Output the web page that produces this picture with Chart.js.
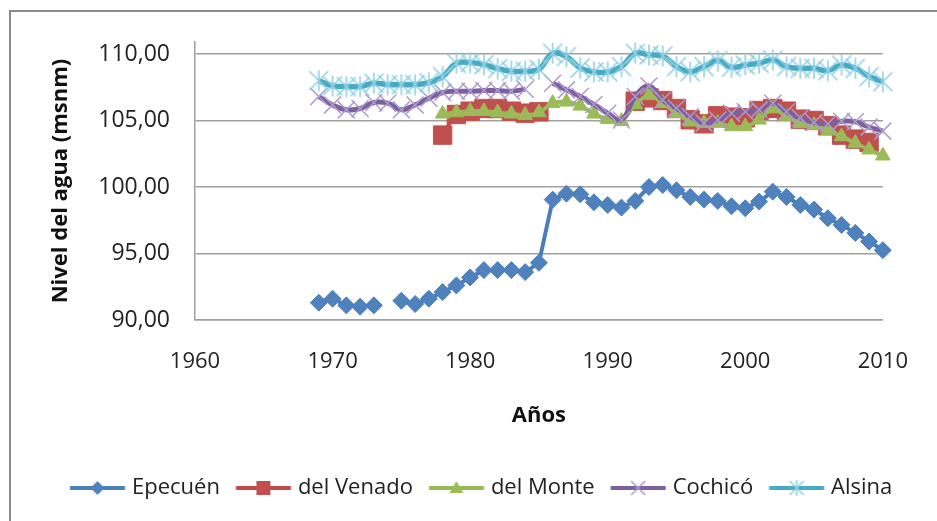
<!DOCTYPE html>
<html><head><meta charset="utf-8">
<script src="https://cdn.jsdelivr.net/npm/chart.js@4.4.1/dist/chart.umd.min.js"></script>
<style>
html,body{margin:0;padding:0;background:#fff;}
#wrap{position:relative;width:937px;height:521px;overflow:hidden;background:#fff;}
#frame{position:absolute;left:9px;top:10px;width:1000px;height:600px;border:2px solid #8c8c8c;box-sizing:border-box;}
#c{position:absolute;left:0;top:0;}
</style></head><body>
<div id="wrap"><div id="frame"></div><canvas id="c" width="937" height="521"></canvas></div>
<script>
const years = [1969,1970,1971,1972,1973,1974,1975,1976,1977,1978,1979,1980,1981,1982,1983,1984,1985,1986,1987,1988,1989,1990,1991,1992,1993,1994,1995,1996,1997,1998,1999,2000,2001,2002,2003,2004,2005,2006,2007,2008,2009,2010];
const epecuen = [91.3,91.6,91.1,91.0,91.1,null,91.45,91.2,91.6,92.1,92.6,93.2,93.75,93.75,93.75,93.6,94.3,99.05,99.5,99.45,98.85,98.65,98.45,98.95,100.0,100.15,99.75,99.25,99.05,98.95,98.55,98.4,98.9,99.65,99.25,98.65,98.3,97.65,97.15,96.55,95.9,95.25];
const venado = [null,null,null,null,null,null,null,null,null,103.9,105.45,105.7,105.9,105.9,105.7,105.55,105.65,null,null,null,null,null,null,106.45,106.7,106.5,105.9,105.05,104.75,105.35,105.25,105.2,105.75,105.9,105.7,105.1,105.0,104.6,103.9,103.6,103.35,null];
const monte = [null,null,null,null,null,null,null,null,null,105.5,105.6,105.7,105.7,105.6,105.5,105.4,105.6,106.3,106.4,106.1,105.5,105.1,104.95,106.2,106.9,106.3,105.55,104.9,104.8,104.8,104.55,104.55,105.05,105.9,105.3,104.8,104.65,104.25,103.8,103.3,102.8,102.35];
const cochico = [106.8,106.17,105.8,105.9,106.35,106.3,105.8,106.17,106.67,107.1,107.2,107.2,107.25,107.25,107.2,107.35,null,107.8,107.3,106.8,106.2,105.54,105.04,106.8,107.6,106.54,105.92,105.3,104.8,105.04,105.54,105.66,105.8,106.3,105.66,105.2,104.85,104.75,104.95,104.9,104.5,104.2];
const alsina = [108.0,107.6,107.55,107.55,107.8,107.7,107.7,107.7,107.85,108.3,109.3,109.35,109.2,108.9,108.7,108.7,108.85,110.05,109.8,108.95,108.65,108.65,109.05,110.05,109.93,109.85,109.05,108.67,109.05,109.5,109.0,109.17,109.3,109.55,109.05,108.92,108.92,108.75,109.17,108.92,108.3,107.92];
const seriesNames = ['Epecuén','del Venado','del Monte','Cochicó','Alsina'];
const xTicks = [1960,1970,1980,1990,2000,2010];
const yTicks = [90,95,100,105,110];

function pts(arr){ return years.map((x,i)=>({x:x, y:arr[i]})); }

function starImg(size, color){
  const c=document.createElement('canvas'); c.width=size; c.height=size;
  const g=c.getContext('2d'); g.strokeStyle=color; g.lineWidth=1.6;
  const m=size/2, a=size/2-1.5;
  g.beginPath();
  g.moveTo(m-a,m-a); g.lineTo(m+a,m+a);
  g.moveTo(m+a,m-a); g.lineTo(m-a,m+a);
  g.moveTo(m,m-a-1); g.lineTo(m,m+a+1);
  g.stroke();
  return c;
}
// legend image: 80 wide, line from 22.5 to 77.5, marker at 50
function legendImg(lineColor, lineW, marker){
  const c=document.createElement('canvas'); c.width=80; c.height=26;
  const g=c.getContext('2d');
  g.strokeStyle=lineColor; g.lineWidth=lineW;
  g.beginPath(); g.moveTo(22.5,13); g.lineTo(77.5,13); g.stroke();
  marker(g,50,13);
  return c;
}
const legendImgs = [
  legendImg('#4A7EBB',4,(g,x,y)=>{g.fillStyle='#4F81BD';g.beginPath();g.moveTo(x,y-7);g.lineTo(x+7,y);g.lineTo(x,y+7);g.lineTo(x-7,y);g.closePath();g.fill();}),
  legendImg('#BE4B48',4,(g,x,y)=>{g.fillStyle='#C0504D';g.fillRect(x-7,y-7,14,14);}),
  legendImg('#98B954',4,(g,x,y)=>{g.fillStyle='#9BBB59';g.beginPath();g.moveTo(x,y-7);g.lineTo(x+7,y+5);g.lineTo(x-7,y+5);g.closePath();g.fill();}),
  legendImg('#7D60A0',4,(g,x,y)=>{g.strokeStyle='#ad9bcc';g.lineWidth=1.5;g.beginPath();g.moveTo(x-7,y-7);g.lineTo(x+7,y+7);g.moveTo(x+7,y-7);g.lineTo(x-7,y+7);g.stroke();}),
  legendImg('#46AAC5',4,(g,x,y)=>{g.strokeStyle='#8fd0e3';g.lineWidth=1.5;g.beginPath();g.moveTo(x-7,y-7);g.lineTo(x+7,y+7);g.moveTo(x+7,y-7);g.lineTo(x-7,y+7);g.moveTo(x,y-8);g.lineTo(x,y+8);g.stroke();})
];

function draw(){
  const ds = [
    {label:seriesNames[0], data:pts(epecuen), order:5, borderColor:'#4A7EBB', borderWidth:4, tension:0,
     pointStyle:'rectRot', pointRadius:8.5, pointBackgroundColor:'#4F81BD', pointBorderColor:'#4F81BD', pointBorderWidth:1},
    {label:seriesNames[1], data:pts(venado), order:4, borderColor:'#BE4B48', borderWidth:4, tension:0.3,
     pointStyle:'rect', pointRadius:13, pointBackgroundColor:'#C0504D', pointBorderColor:'#C0504D', pointBorderWidth:1},
    {label:seriesNames[2], data:pts(monte), order:3, borderColor:'#98B954', borderWidth:4, tension:0.3,
     pointStyle:'triangle', pointRadius:8.5, pointBackgroundColor:'#9BBB59', pointBorderColor:'#9BBB59', pointBorderWidth:1},
    {label:seriesNames[3], data:pts(cochico), order:2, borderColor:'#7D60A0', borderWidth:5, tension:0.4,
     pointStyle:'crossRot', pointRadius:12, pointBackgroundColor:'#ad9bcc', pointBorderColor:'#ad9bcc', pointBorderWidth:1.5},
    {label:seriesNames[4], data:pts(alsina), order:1, borderColor:'#46AAC5', borderWidth:5.5, tension:0.4,
     pointStyle:starImg(22,'#8fd0e3'), pointRadius:10, pointBackgroundColor:'#8fd0e3', pointBorderColor:'#8fd0e3'}
  ];
  ds.forEach(d=>{ d.fill=false; d.spanGaps=false; d.clip=false; d.pointHoverRadius=d.pointRadius; });

  new Chart(document.getElementById('c'), {
    type:'line',
    data:{datasets:ds},
    options:{
      responsive:false, animation:false,
      layout:{padding:{left:54,right:42,top:42,bottom:12}},
      scales:{
        x:{type:'linear', min:1960, max:2010,
          afterBuildTicks:(a)=>{a.ticks=xTicks.map(v=>({value:v}));},
          afterFit:(s)=>{s.height=157;},
          grid:{display:false, drawTicks:false},
          border:{display:true,color:'#a0a0a0',width:1.5},
          ticks:{padding:29, maxRotation:0, autoSkip:false, color:'#222', font:{family:'"Open Sans"',size:22}, callback:(v)=>String(v)},
          title:{display:true, text:'Años', color:'#111', font:{family:'"Open Sans"',size:22,weight:'bold'}, padding:{top:0,bottom:48}}
        },
        y:{type:'linear', min:90, max:110.9,
          afterBuildTicks:(a)=>{a.ticks=yTicks.map(v=>({value:v}));},
          afterFit:(s)=>{s.width=141;},
          grid:{display:true, drawTicks:false, color:'#a0a0a0', lineWidth:1.5},
          border:{display:true,color:'#a0a0a0',width:1.5},
          ticks:{padding:25, color:'#222', font:{family:'"Open Sans"',size:23}, callback:(v)=>v.toFixed(2).replace('.',',')},
          title:{display:true, text:'Nivel del agua (msnm)', color:'#111', font:{family:'"Open Sans"',size:22,weight:'bold'}, padding:{top:-6,bottom:0}}
        }
      },
      plugins:{
        tooltip:{enabled:false},
        legend:{display:true, position:'bottom', align:'start',
          labels:{usePointStyle:true, pointStyleWidth:67, padding:0, color:'#222',
            font:{family:'"Open Sans"',size:22},
            sort:(a,b)=>a.datasetIndex-b.datasetIndex,
            generateLabels:(chart)=>{
              const items = Chart.defaults.plugins.legend.labels.generateLabels(chart);
              return items.map(it=>Object.assign(it,{pointStyle:legendImgs[it.datasetIndex]}));
            }
          }
        }
      }
    }
  });
}
Promise.all([document.fonts.load('22px "Open Sans"'), document.fonts.load('bold 22px "Open Sans"')]).then(draw, draw);
</script>
</body></html>
